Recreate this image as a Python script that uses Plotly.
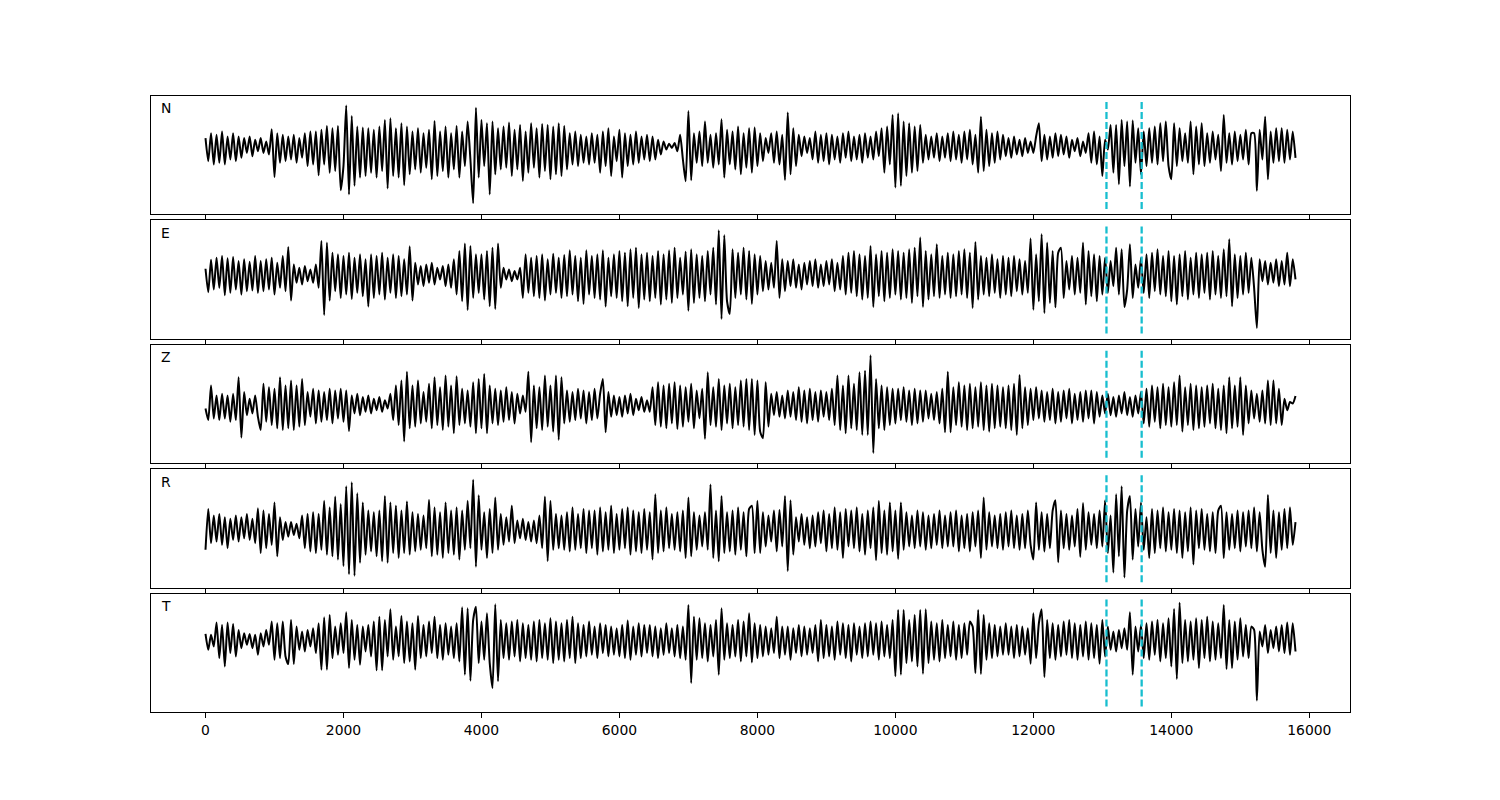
import numpy as np
import plotly.graph_objects as go
from plotly.subplots import make_subplots

DT = 40  # sample spacing along x
components = ["N", "E", "Z", "R", "T"]
pick_times = [13060, 13570]
x_ticks = [0, 2000, 4000, 6000, 8000, 10000, 12000, 14000, 16000]

n_values = [
    25, -45, 40, -55, 35, -50, 45, -55, 30, -40,
    40, -45, 30, -35, 25, -20, 30, -30, 20, -15,
    25, -20, 15, -25, 52, -93, 40, -50, 35, -45,
    30, -40, 35, -50, 25, -35, 40, -60, 45, -55,
    45, -88, 50, -55, 62, -80, 55, -75, 62, -133,
    -60, 124, -146, 92, -120, 60, -95, 57, -90, 55,
    -80, 50, -95, 60, -75, 80, -128, 85, -90, 55,
    -95, 70, -118, 60, -85, 45, -70, 55, -80, 40,
    -65, 50, -100, 77, -90, 45, -75, 60, -95, 40,
    -70, 62, -95, 45, -60, 75, -40, -173, 117, -95,
    80, -60, 70, -146, 75, -85, 55, -70, 60, -65,
    72, -90, 50, -70, 65, -105, 45, -80, 70, -65,
    55, -95, 68, -75, 65, -100, 60, -85, 70, -90,
    62, -70, 40, -55, 45, -60, 35, -50, 30, -55,
    40, -50, 35, -80, 45, -60, 55, -90, 30, -45,
    50, -95, 40, -60, 35, -55, 45, -50, 30, -40,
    35, -45, 30, -40, 20, -25, 15, -10, 8, -5,
    10, -15, 35, -40, -106, 107, -103, 40, -50, 45,
    -60, 75, -50, 35, -65, 40, -55, 82, -95, 50,
    -55, 45, -70, 60, -85, 40, -65, 55, -80, 57,
    -60, 40, -45, 25, -20, 40, -50, 45, -55, 35,
    -102, 103, -85, 55, -60, 35, -30, 30, -20, 25,
    -40, 45, -50, 35, -45, 40, -55, 35, -40, 30,
    -50, 40, -35, 45, -45, 30, -40, 35, -50, 40,
    -35, 30, -40, 45, -30, 55, -80, 60, -55, 95,
    -125, 100, -120, 75, -90, 70, -80, 60, -75, 65,
    -50, 35, -40, 30, -35, 40, -45, 30, -35, 40,
    -45, 45, -40, 35, -50, 45, -40, 50, -55, 35,
    -80, 90, -75, 50, -60, 40, -50, 45, -40, 35,
    -30, 25, -35, 30, -25, 20, -30, 25, -20, 15,
    -20, 30, 70, -45, 35, -40, 30, -35, 40, -30,
    35, -25, 30, -35, 20, -15, 25, -30, 15, -20,
    40, -50, 45, -55, 30, -90, 20, -10, 65, -80,
    65, -115, 80, -60, 75, -122, 78, -50, 55, -85,
    45, -60, 55, -50, 60, -55, 70, -45, 75, -60,
    -100, 70, -60, 55, -45, 40, -50, 75, -85, 60,
    -55, 70, -60, 40, -50, 45, -40, 35, -75, 95,
    -50, 40, -55, 45, -45, 35, -40, 50, -55, 40,
    40, -135, 50, -40, 90, -100, 45, -50, 55, -45,
    55, -50, 50, -40, 45, -35,
]

e_values = [
    17, -53, 44, -45, 50, -40, 55, -62, 48, -55,
    52, -45, 40, -60, 45, -50, 38, -48, 55, -55,
    40, -50, 45, -45, 50, -60, 35, -40, 55, -50,
    82, -78, 30, -25, 20, -30, 25, -20, 15, -25,
    30, -40, 100, -121, 95, -78, 65, -50, 60, -70,
    55, -60, 65, -73, 50, -55, 60, -65, 45, -96,
    60, -70, 55, -60, 65, -75, 50, -55, 60, -70,
    55, -65, 45, -60, 84, -78, 35, -30, 25, -35,
    30, -25, 35, -30, 20, -15, 25, -35, 30, -40,
    45, -60, 70, -80, 92, -106, 85, -70, 60, -55,
    60, -75, 70, -95, 80, -103, 92, -40, 20, -15,
    15, -20, 10, -15, 20, -70, 60, -55, 50, -65,
    55, -70, 60, -78, 45, -60, 62, -55, 50, -70,
    58, -65, 72, -60, 55, -80, 50, -88, 72, -60,
    55, -70, 60, -75, 72, -96, 50, -65, 60, -70,
    70, -80, 65, -95, 75, -70, 80, -100, 60, -75,
    65, -80, 55, -70, 70, -90, 60, -75, 72, -85,
    80, -70, 50, -60, 68, -108, 75, -85, 60, -70,
    55, -80, 70, -60, 80, -90, 132, -133, 117, -80,
    -118, 75, -70, 65, -60, 80, -75, 70, -88, 60,
    -60, 55, -50, 40, -45, 35, -40, 100, -70, 45,
    -50, 40, -35, 45, -40, 30, -45, 35, -30, 40,
    -35, 45, -40, 30, -35, 40, -30, 45, -50, 35,
    -45, 55, -60, 65, -55, 70, -65, 60, -75, 55,
    -70, 85, -97, 60, -65, 70, -80, 65, -70, 75,
    -60, 70, -75, 65, -70, 75, -85, 80, -65, 110,
    -97, 70, -75, 60, -65, 90, -70, 55, -60, 65,
    -70, 60, -65, 70, -60, 75, -70, 65, -100, 97,
    -75, 55, -60, 50, -65, 60, -55, 45, -70, 55,
    -60, 50, -65, 55, -50, 45, -60, 40, -55, 107,
    -105, 60, -80, 120, -115, 95, -85, 70, -98, 65,
    80, -70, 40, -45, 55, -60, 50, -55, 95, -90,
    70, -65, 60, -80, 55, -60, 50, -55, 40, -35,
    80, -60, 75, -97, -45, 90, -70, 30, -40, 50,
    -55, 60, -70, 65, -50, 75, -60, 55, -65, 70,
    -80, 55, -90, 60, -65, 70, -75, 50, -60, 65,
    -70, 60, -55, 65, -75, 70, -60, 55, -70, 75,
    -65, 105, -95, 60, -70, 55, -60, 65, -55, 50,
    -40, -160, 45, -20, 40, -30, 35, -25, 45, -35,
    40, -30, 65, -35, 45, -15,
]

z_values = [
    -10, -45, 60, -40, 30, -45, 35, -40, 30, -50,
    35, -45, 85, -98, 40, -30, 20, -25, 30, -35,
    -75, 65, -50, 55, -60, 50, -70, 85, -75, 60,
    -70, 75, -75, 60, -65, 80, -60, 40, -35, 50,
    -55, 45, -50, 40, -45, 50, -55, 45, -40, 50,
    -50, 45, -78, 30, -25, 35, -30, 25, -20, 30,
    -25, 20, -15, 25, -20, 15, -10, 35, -45, 60,
    -60, 75, -110, 102, -70, 60, -65, 75, -55, 40,
    -50, 65, -70, 85, -60, 55, -75, 90, -65, 60,
    -85, 88, -60, 50, -55, 45, -65, 70, -85, 80,
    -70, 95, -85, 60, -55, 50, -60, 45, -50, 55,
    -45, 40, -55, 35, -25, 30, -20, 102, -112, 60,
    -70, 55, -75, 90, -65, 60, -80, 90, -105, 85,
    -55, 45, -50, 40, -45, 50, -40, 45, -55, 40,
    -45, 50, -40, 35, 80, -82, 40, -35, 30, -30,
    25, -35, 30, -25, 35, -30, 20, -15, 25, -20,
    15, -20, 55, -60, 70, -65, 60, -70, 65, -55,
    70, -72, 60, -65, 55, -50, 65, -70, 45, -40,
    50, -102, 100, -60, 55, -65, 80, -75, 60, -55,
    65, -70, 55, -60, 75, -65, 80, -75, 80, -90,
    75, -80, -100, 70, -65, 35, -30, 40, -35, 30,
    -40, 45, -35, 40, -45, 55, -50, 45, -55, 50,
    -45, 40, -50, 45, -35, 40, -45, 50, -60, 90,
    -75, 60, -85, 90, -70, 65, -75, 100, -90, 105,
    -90, 152, -145, 80, -70, 60, -75, 55, -60, 50,
    -55, 50, -45, 55, -50, 45, -60, 50, -55, 45,
    -50, 45, -40, 35, -45, 40, -55, 50, -82, 102,
    -82, 55, -60, 70, -65, 60, -75, 65, -70, 55,
    -65, 70, -75, 60, -80, 65, -70, 60, -65, 55,
    -70, 60, -75, 65, -90, 92, -70, 55, -60, 50,
    -45, 55, -40, 45, -50, 40, -45, 50, -55, 40,
    -50, 45, -40, 50, -55, 35, -45, 40, -50, 45,
    -40, 45, -55, 40, -35, 30, -25, 35, -30, 25,
    -35, 30, -25, 40, -30, 25, -35, 30, -25, 40,
    -55, 50, -65, 60, -50, 55, -70, 65, -60, 55,
    -65, 70, -60, 90, -80, 55, -60, 65, -75, 60,
    -70, 55, -65, 60, -55, 65, -70, 50, -75, 60,
    -85, 85, -70, 60, -65, 85, -90, 60, -55, 45,
    -40, 35, -50, 45, -55, 75, -60, 75, -55, 50,
    -60, 20, -15, 10, 5, 28,
]

r_values = [
    -60, 65, -40, 45, -35, 50, -45, 40, -55, 35,
    -30, 45, -35, 40, -25, 50, -30, 35, -40, 67,
    -70, 60, -55, 50, -45, 85, -80, 40, -30, 25,
    -20, 25, -15, 20, -25, 45, -55, 50, -65, 55,
    -70, 50, -60, 90, -75, 70, -80, 103, -90, 80,
    -110, 135, -135, 147, -140, 113, -100, 85, -75, 60,
    -65, 55, -80, 60, -95, 105, -100, 85, -70, 75,
    -85, 60, -70, 88, -75, 55, -65, 50, -60, 45,
    -55, 93, -80, 70, -75, 55, -85, 85, -70, 60,
    -75, 70, -90, 60, -60, 90, -55, 155, -112, 107,
    -60, 55, -85, 65, -70, 100, -60, 50, -45, 40,
    -35, 75, -40, 30, -25, 35, -30, 25, -35, 30,
    -40, 45, -55, 103, -95, 90, -60, 50, -55, 45,
    -60, 55, -65, 70, -60, 50, -55, 65, -70, 60,
    -55, 60, -75, 70, -65, 55, -60, 75, -70, 50,
    -60, 65, -55, 70, -75, 60, -65, 55, -70, 65,
    -60, 55, -90, 110, -70, 60, -65, 70, -55, 50,
    -60, 55, -65, 60, -85, 100, -80, 55, -60, 45,
    -50, 55, -60, 140, -85, 60, -95, 105, -70, 55,
    -65, 60, -75, 70, -60, 55, -80, 65, 75, -70,
    90, -70, 55, -50, 45, -35, 60, -65, 62, -50,
    105, -125, 92, -75, 40, -35, 50, -45, 40, -55,
    45, -50, 55, -40, 60, -65, 50, -55, 70, -60,
    55, -85, 65, -50, 60, -55, 70, -65, 50, -75,
    60, -55, 70, -92, 90, -70, 60, -75, 85, -65,
    60, -88, 85, -60, 55, -50, 45, -55, 60, -50,
    55, -60, 45, -55, 50, -45, 60, -55, 45, -50,
    55, -50, 60, -65, 45, -55, 50, -65, 55, -50,
    60, -85, 100, -60, 55, -50, 45, -55, 50, -60,
    55, -50, 60, -55, 45, -60, 50, -55, 60, -45,
    -90, 85, -60, 55, -65, 50, -55, 60, 92, -98,
    60, -55, 50, -60, 45, -50, 65, -82, 83, -60,
    55, -45, 50, -55, 60, -50, 92, -70, 45, -130,
    110, -80, 135, -145, 60, 105, -90, 65, -50, 85,
    -60, 40, -85, 65, -70, 60, -55, 70, -65, 55,
    -60, 65, -70, 60, -85, 55, -65, 70, -105, 60,
    -55, 65, -60, 50, -65, 55, -70, 60, 75, -85,
    55, -60, 50, -55, 60, -65, 55, -50, 60, -55,
    70, -65, 55, -60, -112, 108, -70, 60, -85, 55,
    -60, 65, -55, 70, -45, 25,
]

t_values = [
    18, -30, 15, -20, 52, -55, 45, -80, 52, -40,
    48, -50, 30, -25, 20, -15, 18, -25, 15, -45,
    20, -20, 30, -15, 55, -60, 50, -55, 55, -50,
    -73, 60, -73, 40, -30, 25, -35, 30, -20, 35,
    -40, 50, -90, 68, -90, 75, -55, 40, -45, 50,
    -40, 83, -85, 60, -60, 45, -75, 40, -35, 45,
    -50, 55, -92, 70, -92, 60, -50, 92, -60, 40,
    -50, 72, -70, 55, -65, 50, -90, 72, -55, 45,
    -50, 55, -40, 70, -55, 45, -60, 50, -45, 40,
    -55, 50, -65, 98, -105, 95, -123, 60, 100, -70,
    55, -60, 80, -70, -145, 107, -125, 60, -55, 50,
    -60, 55, -50, 60, -65, 50, -55, 45, -60, 55,
    -65, 60, -55, 50, -60, 65, -70, 55, -60, 50,
    -65, 60, -55, 70, -70, 50, -55, 45, -50, 55,
    -45, 40, -55, 50, -40, 45, -50, 40, -45, 35,
    -50, 45, -55, 58, -60, 40, -45, 50, -50, 45,
    -40, 45, -50, 40, -55, 35, -45, 50, -40, 35,
    -50, 45, -55, 40, -60, 105, -130, 70, -60, 65,
    -55, 50, -65, 45, -50, 60, -105, 95, -60, 50,
    -55, 45, -50, 60, -65, 55, -50, 80, -68, 50,
    -55, 45, -50, 40, -45, 35, -40, 70, -55, 40,
    -45, 40, -60, 35, -40, 45, -50, 40, -45, 35,
    -40, 45, -65, 60, -55, 45, -50, 40, -60, 55,
    -45, 50, -55, 45, -65, 50, -45, 40, -55, 50,
    -50, 55, -45, 50, -60, 55, -50, 45, -55, 60,
    -110, 90, -105, 90, -70, 60, -65, 75, -80, 90,
    -102, 92, -70, 55, -60, 50, -65, 60, -55, 45,
    -50, 55, -60, 45, -55, 50, -45, 55, 40, -100,
    90, -103, 75, -60, 50, -55, 45, -50, 40, -45,
    50, -45, 40, -55, 45, -50, 40, -45, 35, -72,
    80, -55, 50, 92, -112, 60, -55, 50, -60, 45,
    -50, 55, -45, 60, -55, 50, -60, 45, -50, 55,
    -60, 50, -55, 45, -72, 60, -50, 40, -30, 25,
    -35, 30, -25, 35, -30, 83, -105, 40, -35, 45,
    -55, 50, -60, 55, -45, 60, -65, 50, -55, 65,
    -80, 93, -118, 112, -70, 60, -65, 55, -60, 65,
    -85, 60, -55, 70, -65, 55, -60, 50, -55, 105,
    -88, 60, -85, 55, -60, 65, -50, 45, -55, 40,
    30, -183, 25, -20, 45, -40, 30, -25, 40, -35,
    45, -40, 52, -45, 50, -35,
]

series = [n_values, e_values, z_values, r_values, t_values]

FONT = "DejaVu Sans, Liberation Sans, sans-serif"
PICK_COLOR = "#17becf"

fig = make_subplots(rows=5, cols=1, shared_xaxes=True, vertical_spacing=6 / 616)

tmax = 0
for i, (name, vals) in enumerate(zip(components, series), start=1):
    t = np.arange(len(vals)) * DT
    tmax = max(tmax, t[-1])
    fig.add_trace(
        go.Scatter(x=t, y=vals, mode="lines",
                   line=dict(color="black", width=2, shape="spline", smoothing=0.6),
                   showlegend=False, hoverinfo="skip"),
        row=i, col=1)
    lo, hi = 1.1 * min(vals), 1.1 * max(vals)
    for p in pick_times:
        fig.add_trace(
            go.Scatter(x=[p, p], y=[lo, hi], mode="lines",
                       line=dict(color=PICK_COLOR, width=2.3, dash="7px,3px"),
                       showlegend=False, hoverinfo="skip"),
            row=i, col=1)
    pad = 0.05 * (hi - lo)
    fig.update_yaxes(range=[lo - pad, hi + pad], row=i, col=1)
    suffix = "" if i == 1 else str(i)
    fig.add_annotation(
        text=name, xref=f"x{suffix} domain", yref=f"y{suffix} domain",
        x=0.0065, y=0.895, xanchor="left", yanchor="middle",
        showarrow=False, font=dict(family=FONT, size=13.9, color="black"))

xpad = 0.05 * tmax
fig.update_xaxes(
    range=[-xpad, tmax + xpad], tickvals=x_ticks, tickformat="d",
    ticks="outside", ticklen=5, tickwidth=1.1, tickcolor="black",
    showline=True, mirror=True, linecolor="black", linewidth=1.1,
    showgrid=False, zeroline=False,
    tickfont=dict(family=FONT, size=13.9, color="black"))
fig.update_yaxes(
    showticklabels=False, ticks="", showline=True, mirror=True,
    linecolor="black", linewidth=1.1, showgrid=False, zeroline=False)

fig.update_layout(
    width=1500, height=800,
    margin=dict(l=143, r=158, t=88, b=96),
    paper_bgcolor="white", plot_bgcolor="white",
    font=dict(family=FONT, size=13.9, color="black"),
    showlegend=False)

fig.write_html("out.html")
